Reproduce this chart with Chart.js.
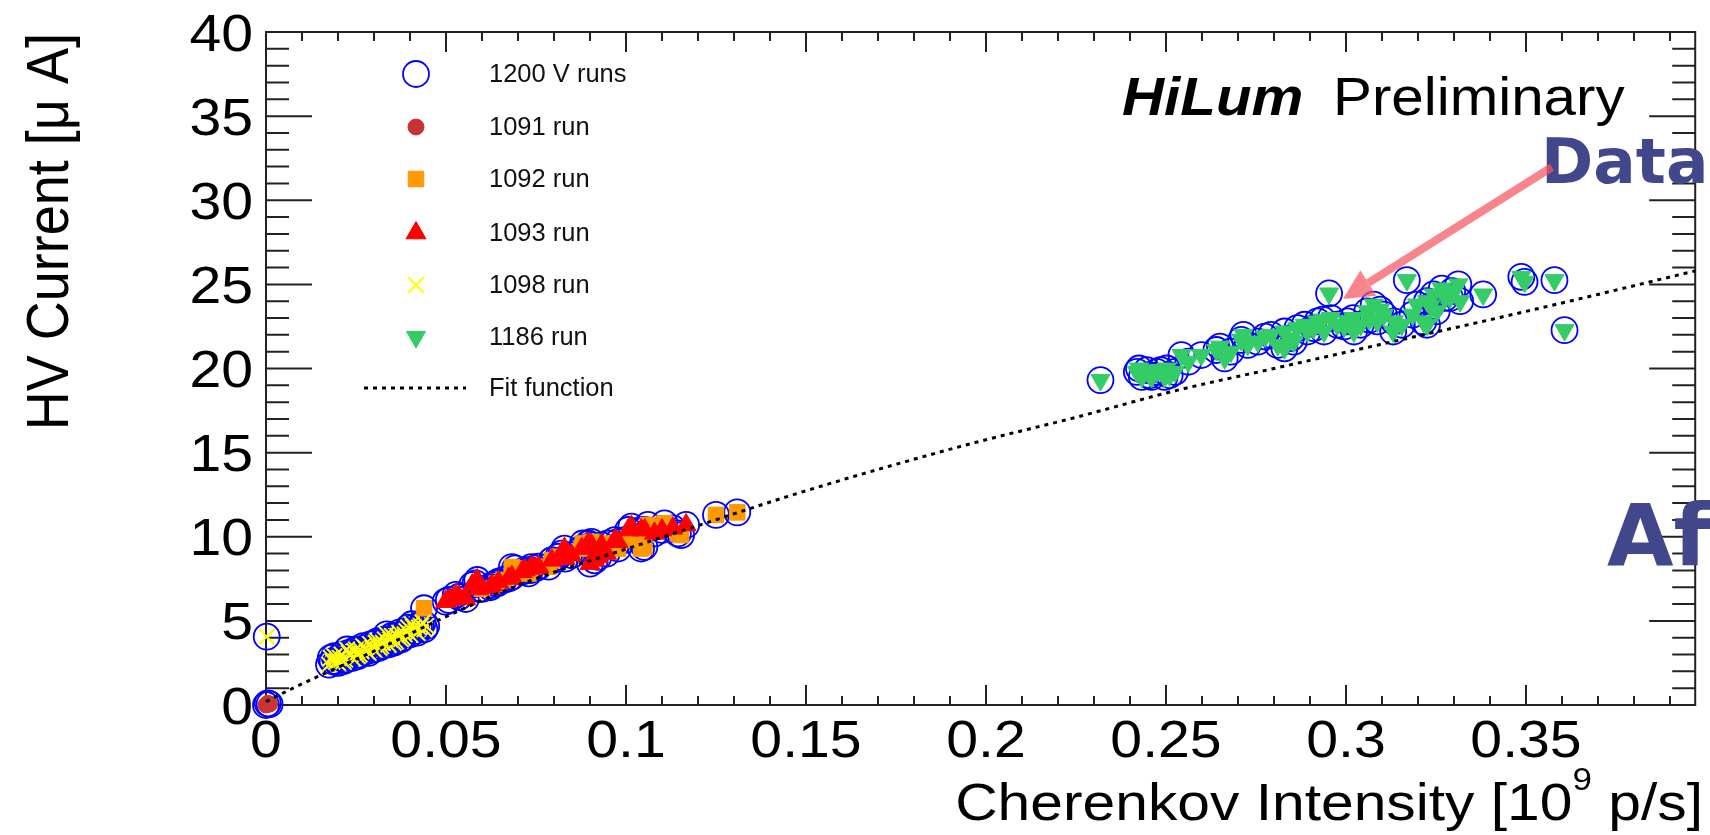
<!DOCTYPE html>
<html>
<head>
<meta charset="utf-8">
<title>HV Current vs Cherenkov Intensity</title>
<script src="https://cdn.jsdelivr.net/npm/chart.js@4.4.1/dist/chart.umd.min.js"></script>
<style>
  html, body { margin: 0; padding: 0; background: #fff; }
  #wrap { width: 1710px; height: 835px; }
</style>
</head>
<body>
<div id="wrap"><canvas id="hvChart" width="1710" height="835"></canvas></div>
<script>
// Axis ranges and tick steps
const xRange = [0, 0.397];
const yRange = [0, 40];
const xSteps = [0.05, 0.01];   // major, minor
const ySteps = [5, 1];

// Cherenkov intensity [1e9 p/s] vs HV current [uA], per run
const run1091X = [0, 0.0005, 0.001];
const run1091Y = [0, 0.1, 0.05];

const run1092X = [0.0439, 0.0600, 0.0642, 0.0660, 0.0683, 0.0692, 0.0729, 0.0734, 0.0785, 0.0794, 0.0812, 0.0877,
                  0.0880, 0.0904, 0.0950, 0.0978, 0.0996, 0.1033, 0.1042, 0.1051, 0.1061, 0.1107, 0.1144, 0.1153,
                  0.1250, 0.1309];
const run1092Y = [5.75, 6.9, 7.23, 7.43, 8.2, 8.12, 7.82, 8.02, 8.22, 8.6, 8.81, 9.3,
                  9.6, 9.7, 9.6, 9.3, 9.8, 10.0, 9.3, 9.4, 10.7, 10.8, 10.2, 10.1,
                  11.3, 11.45];

const run1093X = [0.0499, 0.0508, 0.0527, 0.0536, 0.0555, 0.0573, 0.0582, 0.0587, 0.0591, 0.0623, 0.0628, 0.0646,
                  0.0674, 0.0683, 0.0711, 0.0720, 0.0737, 0.0748, 0.0757, 0.0794, 0.0821, 0.0829, 0.0831, 0.0849,
                  0.0877, 0.0895, 0.0900, 0.0904, 0.0913, 0.0923, 0.0932, 0.0946, 0.0969, 0.0978, 0.1006, 0.1015,
                  0.1042, 0.1052, 0.1079, 0.1100, 0.1130, 0.1167];
const run1093Y = [6.14, 6.24, 6.54, 6.43, 6.3, 7.13, 7.23, 7.43, 6.9, 7.0, 7.13, 7.33,
                  7.52, 7.62, 7.92, 8.02, 8.2, 8.12, 8.22, 8.6, 9.0, 9.3, 8.7, 8.9,
                  9.3, 9.6, 8.4, 9.5, 8.6, 8.8, 9.5, 9.0, 9.8, 9.7, 10.4, 10.6,
                  10.4, 10.4, 10.2, 10.4, 10.5, 10.7];

const run1098X = [0.0002, 0.0175, 0.0180, 0.0185, 0.0190, 0.0195, 0.0200, 0.0205, 0.0210, 0.0215, 0.0220, 0.0225,
                  0.0230, 0.0235, 0.0240, 0.0245, 0.0250, 0.0255, 0.0260, 0.0265, 0.0270, 0.0275, 0.0280, 0.0285,
                  0.0290, 0.0295, 0.0300, 0.0305, 0.0310, 0.0315, 0.0320, 0.0325, 0.0330, 0.0335, 0.0340, 0.0345,
                  0.0350, 0.0355, 0.0360, 0.0365, 0.0370, 0.0375, 0.0380, 0.0385, 0.0390, 0.0395, 0.0400, 0.0405,
                  0.0410, 0.0415, 0.0420, 0.0425, 0.0430, 0.0435, 0.0440, 0.0445];
const run1098Y = [4.06, 2.4, 2.8, 2.6, 2.9, 2.6, 2.5, 2.8, 3.0, 2.6, 2.7, 3.3,
                  3.1, 3.0, 2.8, 3.2, 3.3, 2.9, 3.0, 3.2, 3.5, 3.4, 3.2, 3.1,
                  3.6, 3.4, 3.3, 3.7, 3.8, 3.4, 3.5, 3.7, 3.9, 4.2, 3.6, 3.9,
                  4.1, 3.7, 3.8, 4.1, 4.3, 3.9, 4.0, 4.2, 4.4, 4.6, 4.2, 4.8,
                  4.6, 4.4, 4.3, 4.6, 4.7, 4.9, 4.5, 4.7];

const run1186X = [0.2318, 0.2419, 0.2425, 0.2433, 0.2447, 0.2455, 0.2460, 0.2474, 0.2485, 0.2496, 0.2502, 0.2510,
                  0.2525, 0.2543, 0.2562, 0.2598, 0.2640, 0.2650, 0.2663, 0.2680, 0.2709, 0.2715, 0.2727, 0.2755,
                  0.2775, 0.2792, 0.2810, 0.2829, 0.2829, 0.2847, 0.2855, 0.2865, 0.2885, 0.2893, 0.2910, 0.2921,
                  0.2935, 0.2939, 0.2953, 0.2958, 0.2976, 0.2995, 0.3004, 0.3020, 0.3022, 0.3041, 0.3059, 0.3065,
                  0.3077, 0.3087, 0.3095, 0.3105, 0.3131, 0.3133, 0.3155, 0.3169, 0.3185, 0.3197, 0.3215, 0.3225,
                  0.3225, 0.3235, 0.3243, 0.3252, 0.3266, 0.3275, 0.3289, 0.3295, 0.3312, 0.3317, 0.3381, 0.3487,
                  0.3496, 0.3579, 0.3607];
const run1186Y = [19.31, 19.8, 20.0, 19.5, 19.9, 19.6, 19.5, 19.8, 19.9, 19.5, 20.0, 19.6,
                  19.8, 20.8, 20.4, 20.8, 21.1, 21.3, 20.6, 21.0, 21.7, 22.0, 21.4, 21.6,
                  21.9, 22.0, 21.4, 22.2, 21.2, 21.8, 21.6, 22.4, 22.6, 22.2, 22.4, 22.8,
                  22.9, 22.2, 24.46, 23.0, 22.6, 22.5, 22.8, 23.0, 22.2, 22.6, 23.4, 22.9,
                  23.8, 22.8, 23.5, 23.2, 22.2, 22.8, 22.6, 25.25, 23.2, 23.8, 22.8, 24.0,
                  22.6, 23.7, 24.4, 23.4, 24.75, 24.2, 24.2, 24.6, 25.0, 24.0, 24.4, 25.45,
                  25.15, 25.25, 22.28];

// Fit curve samples
const fitX = [0, 0.007, 0.016, 0.034, 0.047, 0.071, 0.099, 0.122, 0.145, 0.170, 0.197, 0.225, 0.253, 0.280, 0.311, 0.340, 0.366, 0.397];
const fitY = [0.2, 0.95, 1.85, 3.6, 4.95, 7.2, 9.2, 10.8, 12.4, 14.0, 15.6, 17.1, 18.7, 20.0, 21.5, 22.9, 24.2, 25.8];

const zip = (xs, ys) => xs.map((x, i) => ({ x: x, y: ys[i] }));

const runs1091 = zip(run1091X, run1091Y);
const runs1092 = zip(run1092X, run1092Y);
const runs1093 = zip(run1093X, run1093Y);
const runs1098 = zip(run1098X, run1098Y);
const runs1186 = zip(run1186X, run1186Y);
// every 1200 V run gets an open circle
const runs1200 = [].concat(runs1091, runs1092, runs1093, runs1098, runs1186);

const ROOT_FONT = '"Liberation Sans", Arial, sans-serif';
const TEXT_SX = 1.1; // text in this figure is a bit wide

function wideText(ctx, text, x, y, sx, align) {
    ctx.save();
    ctx.translate(x, y);
    ctx.scale(sx, 1);
    ctx.textAlign = align || 'left';
    ctx.fillText(text, 0, 0);
    ctx.restore();
}

function markerOpts(ds) {
    return {
        pointStyle: ds.pointStyle,
        radius: ds.pointRadius,
        rotation: ds.pointRotation || 0,
        borderWidth: ds.pointBorderWidth
    };
}

// frame with inward ticks on all four sides, tick labels, axis titles
const frameAxes = {
    id: 'frameAxes',
    beforeDatasetsDraw(chart) {
        const { ctx, chartArea: a, scales: { x, y } } = chart;
        ctx.save();
        ctx.strokeStyle = '#222';
        ctx.lineWidth = 2;
        ctx.strokeRect(a.left, a.top, a.right - a.left, a.bottom - a.top);
        ctx.beginPath();
        const nx = Math.floor(xRange[1] / xSteps[1] + 1e-6);
        for (let i = 0; i <= nx; i++) {
            const px = x.getPixelForValue(i * xSteps[1]);
            const len = (i % 5 === 0) ? 20 : 9;
            ctx.moveTo(px, a.bottom); ctx.lineTo(px, a.bottom - len);
            ctx.moveTo(px, a.top); ctx.lineTo(px, a.top + len);
        }
        for (let v = yRange[0]; v <= yRange[1]; v += ySteps[1]) {
            const py = y.getPixelForValue(v);
            const len = (v % ySteps[0] === 0) ? 46 : 23;
            ctx.moveTo(a.left, py); ctx.lineTo(a.left + len, py);
            ctx.moveTo(a.right, py); ctx.lineTo(a.right - len, py);
        }
        ctx.stroke();

        ctx.fillStyle = '#000';
        ctx.font = '52px ' + ROOT_FONT;
        x.ticks.forEach(t => {
            const label = parseFloat(t.value.toFixed(3)).toString();
            wideText(ctx, label, x.getPixelForValue(t.value), 757, TEXT_SX, 'center');
        });
        y.ticks.forEach(t => {
            wideText(ctx, String(t.value), 253, y.getPixelForValue(t.value) + 18.5, TEXT_SX, 'right');
        });

        // x title with superscript exponent
        const parts = ['Cherenkov Intensity [10', '9', ' p/s]'];
        const sx = 1.13;
        ctx.font = '52px ' + ROOT_FONT;
        const w1 = ctx.measureText(parts[0]).width * sx;
        const w3 = ctx.measureText(parts[2]).width * sx;
        ctx.font = '31px ' + ROOT_FONT;
        const w2 = ctx.measureText(parts[1]).width * sx;
        let left = 1703 - (w1 + w2 + w3);
        ctx.font = '52px ' + ROOT_FONT;
        wideText(ctx, parts[0], left, 820, sx);
        ctx.font = '31px ' + ROOT_FONT;
        wideText(ctx, parts[1], left + w1, 790, sx);
        ctx.font = '52px ' + ROOT_FONT;
        wideText(ctx, parts[2], left + w1 + w2, 820, sx);

        // y title, rotated, ending at the top of the frame
        ctx.save();
        ctx.translate(68, 33);
        ctx.scale(TEXT_SX, 1);
        ctx.rotate(-Math.PI / 2);
        ctx.font = '54px ' + ROOT_FONT;
        ctx.textAlign = 'right';
        ctx.fillText('HV Current [\u03bc A]', 0, 0);
        ctx.restore();
        ctx.restore();
    }
};

// legend box, label and annotation overlay
const overlay = {
    id: 'overlay',
    afterDraw(chart) {
        const ctx = chart.ctx;
        const dsets = chart.data.datasets;
        const rowY = [74, 127, 179, 233, 285, 337, 388];
        ctx.save();
        ctx.font = '25.5px ' + ROOT_FONT;
        ctx.textBaseline = 'middle';
        dsets.forEach((ds, i) => {
            const yy = rowY[i];
            if (ds.showLine) {
                ctx.save();
                ctx.strokeStyle = ds.borderColor;
                ctx.lineWidth = ds.borderWidth;
                ctx.setLineDash(ds.borderDash);
                ctx.beginPath();
                ctx.moveTo(364, yy); ctx.lineTo(466, yy);
                ctx.stroke();
                ctx.restore();
            } else {
                ctx.save();
                ctx.fillStyle = ds.pointBackgroundColor;
                ctx.strokeStyle = ds.pointBorderColor;
                ctx.lineWidth = ds.pointBorderWidth;
                Chart.helpers.drawPoint(ctx, markerOpts(ds), 416, yy);
                ctx.restore();
            }
            ctx.fillStyle = '#111';
            ctx.fillText(ds.label, 489, yy + 1);
        });

        // HiLum Preliminary
        ctx.textBaseline = 'alphabetic';
        ctx.fillStyle = '#000';
        ctx.font = 'italic bold 53px ' + ROOT_FONT;
        wideText(ctx, 'HiLum', 1122, 115, TEXT_SX);
        ctx.font = '53px ' + ROOT_FONT;
        wideText(ctx, 'Preliminary', 1333, 115, TEXT_SX);

        // slide annotations
        ctx.fillStyle = '#41478a';
        ctx.font = 'bold 63px "DejaVu Sans", sans-serif';
        ctx.fillText('Data', 1541, 183);
        ctx.font = 'bold 86px "DejaVu Sans", sans-serif';
        ctx.fillText('Af', 1607, 565);

        // arrow pointing at the data
        const x0 = 1552, y0 = 167, x1 = 1343, y1 = 299;
        const ang = Math.atan2(y1 - y0, x1 - x0);
        const headLen = 30, headW = 15;
        const bx = x1 - Math.cos(ang) * headLen, by = y1 - Math.sin(ang) * headLen;
        ctx.fillStyle = ctx.strokeStyle = 'rgba(245, 85, 95, 0.72)';
        ctx.lineWidth = 8;
        ctx.beginPath();
        ctx.moveTo(x0, y0); ctx.lineTo(bx, by);
        ctx.stroke();
        ctx.beginPath();
        ctx.moveTo(x1, y1);
        ctx.lineTo(bx + Math.sin(ang) * headW, by - Math.cos(ang) * headW);
        ctx.lineTo(bx - Math.sin(ang) * headW, by + Math.cos(ang) * headW);
        ctx.closePath();
        ctx.fill();
        ctx.restore();
    }
};

function runSet(label, data, style, color, radius, extra) {
    return Object.assign({
        label: label,
        data: data,
        pointStyle: style,
        pointRadius: radius,
        pointHoverRadius: radius,
        pointBackgroundColor: color,
        pointBorderColor: color,
        pointBorderWidth: 1,
        order: 1,
        clip: false
    }, extra || {});
}

Chart.defaults.font.family = ROOT_FONT;

// higher order is painted first: circles, then squares, then the other runs, fit on top
new Chart(document.getElementById('hvChart'), {
    type: 'scatter',
    data: {
        datasets: [
            runSet('1200 V runs', runs1200, 'circle', '#0000ff', 13,
                   { pointBackgroundColor: 'rgba(0,0,0,0)', pointBorderWidth: 1.8, order: 3 }),
            runSet('1091 run', runs1091, 'circle', '#c83434', 8),
            runSet('1092 run', runs1092, 'rect', '#ff9900', 11, { order: 2 }),
            runSet('1093 run', runs1093, 'triangle', '#ff0000', 11.5),
            runSet('1098 run', runs1098, 'crossRot', '#ffff00', 11, { pointBorderWidth: 2 }),
            runSet('1186 run', runs1186, 'triangle', '#33cc66', 11, { pointRotation: 180 }),
            {
                label: 'Fit function',
                data: zip(fitX, fitY),
                showLine: true,
                borderColor: '#000',
                borderWidth: 3,
                borderDash: [4, 5],
                pointRadius: 0,
                cubicInterpolationMode: 'monotone',
                order: 0,
                clip: false
            }
        ]
    },
    options: {
        responsive: false,
        devicePixelRatio: 1,
        animation: false,
        layout: { padding: { top: 32, right: 6, left: 0, bottom: 0 } },
        plugins: { legend: { display: false }, tooltip: { enabled: false } },
        scales: {
            x: {
                type: 'linear',
                min: xRange[0],
                max: xRange[1],
                ticks: { display: false, stepSize: xSteps[0], includeBounds: false },
                grid: { display: false },
                border: { display: false },
                afterFit(scale) { scale.height = 130; }
            },
            y: {
                type: 'linear',
                min: yRange[0],
                max: yRange[1],
                ticks: { display: false, stepSize: ySteps[0], includeBounds: false },
                grid: { display: false },
                border: { display: false },
                afterFit(scale) { scale.width = 266; }
            }
        }
    },
    plugins: [frameAxes, overlay]
});
</script>
</body>
</html>
